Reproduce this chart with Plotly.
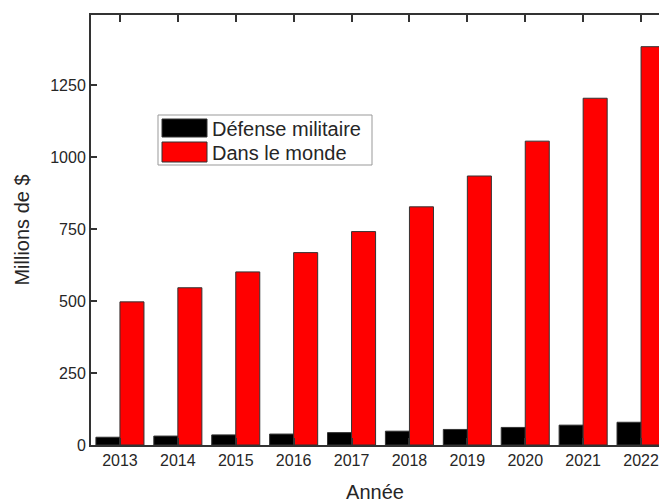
import plotly.graph_objects as go

years = [2013, 2014, 2015, 2016, 2017, 2018, 2019, 2020, 2021, 2022]
defense = [27, 31, 35, 38, 43, 48, 54, 61, 69, 79]
monde = [497, 546, 601, 668, 741, 827, 934, 1055, 1204, 1383]
yticks = [0, 250, 500, 750, 1000, 1250]
names = ["Défense militaire", "Dans le monde"]

W, H = 659, 503
L, R, T, B = 91, 659, 15, 445

def px(x):
    return (x - L) / (R - L)

def py(y):
    return (B - y) / (B - T)

font = dict(family="Liberation Sans, Arial, sans-serif", color="#262626")

fig = go.Figure()
fig.add_trace(go.Bar(x=years, y=defense, name=names[0], marker=dict(color="#000000", line=dict(color="#333333", width=1))))
fig.add_trace(go.Bar(x=years, y=monde, name=names[1], marker=dict(color="#FF0000", line=dict(color="#333333", width=1))))

shapes = [
    dict(type="rect", xref="paper", yref="paper", x0=px(158), x1=px(372), y0=py(165), y1=py(115),
         line=dict(color="#999999", width=1), fillcolor="white", layer="above"),
    dict(type="rect", xref="paper", yref="paper", x0=px(162), x1=px(207), y0=py(137), y1=py(119),
         line=dict(color="#333333", width=1), fillcolor="#000000", layer="above"),
    dict(type="rect", xref="paper", yref="paper", x0=px(162), x1=px(207), y0=py(162), y1=py(142),
         line=dict(color="#333333", width=1), fillcolor="#FF0000", layer="above"),
]
annotations = [
    dict(xref="paper", yref="paper", x=px(210), y=py(129), text=names[0], showarrow=False,
         xanchor="left", yanchor="middle", font=dict(size=20, **font)),
    dict(xref="paper", yref="paper", x=px(210), y=py(153), text=names[1], showarrow=False,
         xanchor="left", yanchor="middle", font=dict(size=20, **font)),
]

fig.update_layout(
    width=W, height=H,
    margin=dict(l=L, r=W - R, t=T, b=H - B),
    paper_bgcolor="white", plot_bgcolor="white",
    barmode="group", bargap=0.17, bargroupgap=0,
    showlegend=False,
    shapes=shapes, annotations=annotations,
    font=dict(size=16, **font),
    xaxis=dict(
        range=[2012.5, 2022.31], tickvals=years, ticktext=[str(y) for y in years],
        ticks="inside", ticklen=7, tickwidth=2, tickcolor="#333333",
        showline=True, linecolor="#333333", linewidth=2, mirror="ticks",
        showgrid=False, zeroline=False,
        title=dict(text="Année", font=dict(size=20, **font), standoff=18),
        tickfont=dict(size=16, **font),
    ),
    yaxis=dict(
        range=[0, 1493], tickvals=yticks,
        ticks="inside", ticklen=6, tickwidth=2, tickcolor="#333333",
        showline=True, linecolor="#333333", linewidth=2, mirror=False,
        showgrid=False, zeroline=False,
        title=dict(text="Millions de $", font=dict(size=20, **font), standoff=15),
        tickfont=dict(size=16, **font),
    ),
)

fig.write_html(
    "out.html",
    config={"displayModeBar": False},
    post_script="document.body.style.margin='0';document.body.style.overflow='hidden';",
)
